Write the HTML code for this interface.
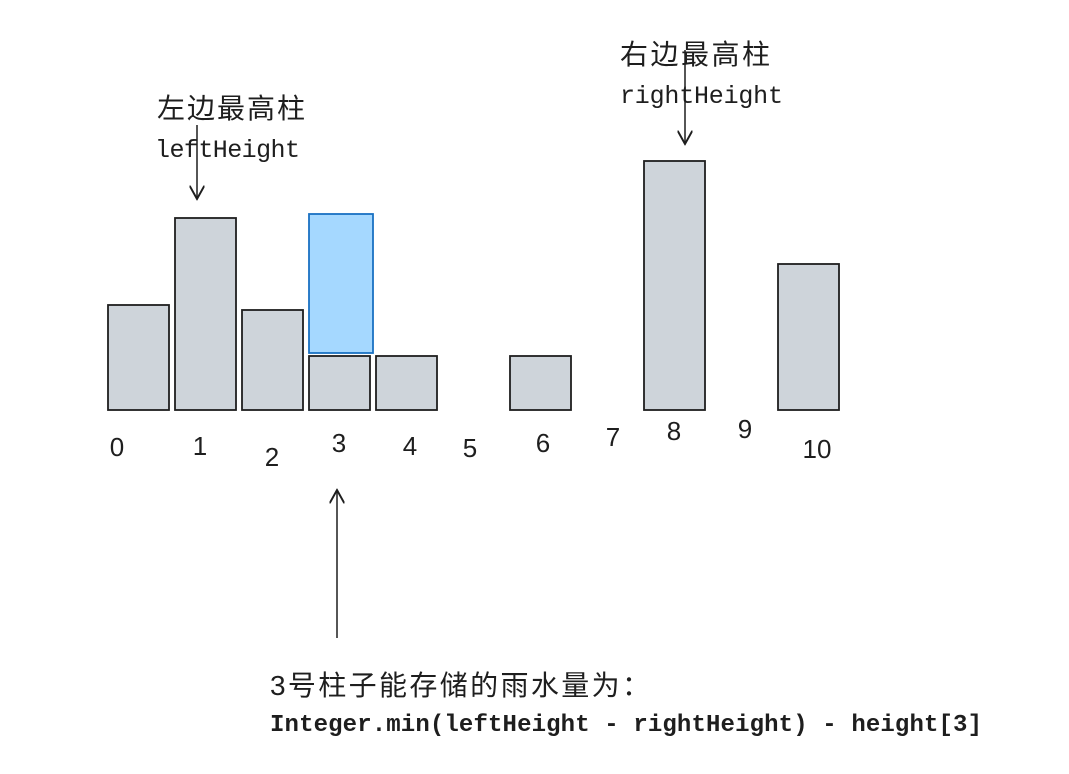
<!DOCTYPE html>
<html><head><meta charset="utf-8"><style>
body{margin:0;background:#fff;width:1069px;height:769px;overflow:hidden}
svg text{font-family:"Liberation Sans","Noto Sans CJK SC",sans-serif;fill:#1e1e1e}
.m{font-family:"Liberation Mono","Noto Sans CJK SC",monospace}
</style></head><body>
<svg id="chart" width="1069" height="769" xmlns="http://www.w3.org/2000/svg">
<defs><marker id="ah" viewBox="0 0 10 10" refX="9" refY="5" markerWidth="10" markerHeight="10" orient="auto-start-reverse"><path d="M0,0 L9,5 L0,10" fill="none" stroke="#1e1e1e" stroke-width="1.3"/></marker></defs>
<g id="bars"></g>
<g id="labels"></g>
<text x="157" y="118" font-size="28" textLength="148">左边最高柱</text>
<text class="m" x="155" y="157" font-size="25" textLength="145">leftHeight</text>
<line x1="197" y1="125" x2="197" y2="199" stroke="#1e1e1e" stroke-width="1.5" marker-end="url(#ah)"/>
<text x="620" y="64" font-size="28" textLength="150">右边最高柱</text>
<text class="m" x="620" y="103" font-size="25" textLength="163">rightHeight</text>
<line x1="685" y1="50" x2="685" y2="144" stroke="#1e1e1e" stroke-width="1.5" marker-end="url(#ah)"/>
<line x1="337" y1="638" x2="337" y2="490" stroke="#1e1e1e" stroke-width="1.5" marker-end="url(#ah)"/>
<text x="270" y="695" font-size="28" textLength="380">3号柱子能存储的雨水量为：</text>
<text class="m" x="270" y="731" font-size="24" font-weight="bold" textLength="712">Integer.min(leftHeight - rightHeight) - height[3]</text>
</svg>
<script>
const indices=[0,1,2,3,4,5,6,7,8,9,10];
const heights=[105,192,100,54,54,0,54,0,249,0,146];
const water=[0,0,0,139,0,0,0,0,0,0,0];
const base=410, x0=108, step=67, bw=61;
const labelX=[117,200,272,339,410,470,543,613,674,745,817];
const labelY=[456,455,466,452,455,457,452,446,440,438,458];
const xs=i=>x0+i*step;
const ys=v=>base-v;
const NS="http://www.w3.org/2000/svg";
const g=document.getElementById('bars'), lg=document.getElementById('labels');
indices.forEach((i,k)=>{
  const x=xs(i);
  if(heights[k]>0){
    const r=document.createElementNS(NS,'rect');
    
    
    r.setAttribute('x',x);r.setAttribute('y',ys(heights[k]));r.setAttribute('width',bw);r.setAttribute('height',heights[k]);
    r.setAttribute('fill','#ced4da');r.setAttribute('stroke','#1e1e1e');r.setAttribute('stroke-width','1.8');
    g.appendChild(r);
  }
  if(water[k]>0){
    const w=document.createElementNS(NS,'rect');
    
    
    w.setAttribute('x',x);w.setAttribute('y',ys(heights[k])-3-water[k]);w.setAttribute('width',bw+3);w.setAttribute('height',water[k]);
    w.setAttribute('fill','#a5d8ff');w.setAttribute('stroke','#1971c2');w.setAttribute('stroke-width','1.8');
    g.appendChild(w);
  }
  const t=document.createElementNS(NS,'text');
  
  
  t.setAttribute('x',labelX[k]);t.setAttribute('y',labelY[k]);
  t.setAttribute('text-anchor','middle');t.setAttribute('font-size','26');
  t.textContent=String(i);
  lg.appendChild(t);
});
</script>
</body></html>
